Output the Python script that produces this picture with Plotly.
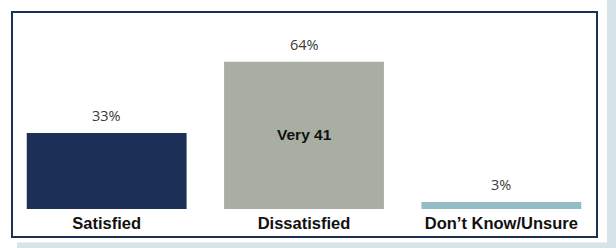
import plotly.graph_objects as go

categories = ["Satisfied", "Dissatisfied", "Don\u2019t Know/Unsure"]
values = [33, 64, 3]
bar_colors = ["#1b2f57", "#a9aea3", "#95bcc5"]
inner_label = "Very 41"
inner_value = 33

W, H = 616, 248
ml, mr, mt, mb = 8, 16, 12, 39
pw, ph = W - ml - mr, H - mt - mb

def px(x):
    return (x - ml) / pw

def py(y):
    return (H - mb - y) / ph

fig = go.Figure()
fig.add_trace(go.Bar(
    x=categories, y=values,
    marker=dict(color=bar_colors, line=dict(width=0)),
    hoverinfo="skip",
))

for c, v in zip(categories, values):
    fig.add_annotation(x=c, y=v, text=f"{v}%", showarrow=False,
                       yanchor="bottom", yshift=6,
                       font=dict(family="Open Sans, Liberation Sans, Arial", size=14.5, color="#3a3a3a"))

fig.add_annotation(x=categories[1], y=inner_value, text=f"<b>{inner_label}</b>", showarrow=False,
                   yanchor="middle", yshift=-1,
                   font=dict(family="Liberation Sans, Arial", size=15.5, color="#111111"))

strip = "#d6e3e8"
fig.add_shape(type="rect", xref="paper", yref="paper", x0=px(607), x1=px(617), y0=py(249), y1=py(-1),
              fillcolor=strip, line=dict(width=0), layer="below")
fig.add_shape(type="rect", xref="paper", yref="paper", x0=px(17), x1=px(607), y0=py(249), y1=py(242.5),
              fillcolor=strip, line=dict(width=0), layer="below")
fig.add_shape(type="rect", xref="paper", yref="paper", x0=px(12), x1=px(597), y0=py(237), y1=py(12),
              fillcolor="rgba(0,0,0,0)", line=dict(color="#1b2f57", width=2))

fig.update_layout(
    width=W, height=H,
    margin=dict(l=ml, r=mr, t=mt, b=mb),
    paper_bgcolor="white", plot_bgcolor="rgba(0,0,0,0)",
    bargap=0.19, showlegend=False,
    xaxis=dict(showgrid=False, zeroline=False, showline=False, ticks="",
               ticklabelstandoff=2,
               tickfont=dict(family="Liberation Sans, Arial", size=16.5, color="#111111"),
               tickprefix="<b>", ticksuffix="</b>", fixedrange=True),
    yaxis=dict(range=[0, ph / 2.3], visible=False, fixedrange=True),
)

fig.write_html("out.html", config={"displayModeBar": False},
               post_script="document.body.style.margin='0';document.body.style.overflow='hidden';")
